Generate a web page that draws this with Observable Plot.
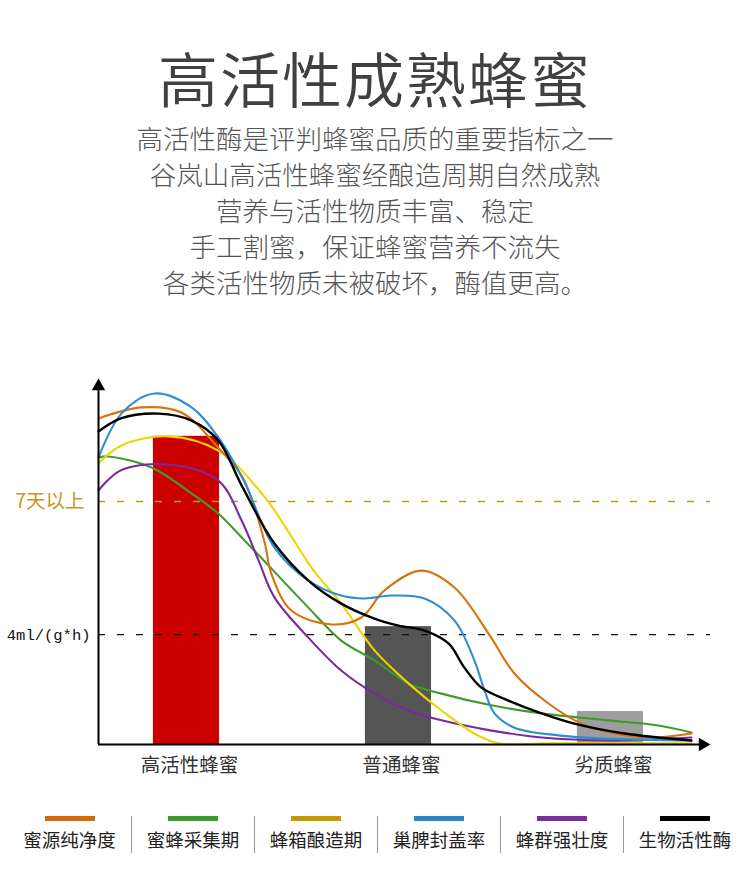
<!DOCTYPE html>
<html>
<head>
<meta charset="utf-8">
<script src="https://cdn.jsdelivr.net/npm/d3@7"></script>
<script src="https://cdn.jsdelivr.net/npm/@observablehq/plot@0.6"></script>
<style>
  html, body { margin: 0; padding: 0; background: #fff; }
  body { width: 750px; font-family: "Noto Sans CJK SC", "Noto Sans", sans-serif; }
  #title { padding-top: 47px; height: 60px; line-height: 60px; font-size: 60px; color: #404040; text-align: center; letter-spacing: 2px; font-weight: 350; }
  #subtitle { margin-top: 13px; font-size: 26.5px; line-height: 36px; color: #555; text-align: center; font-weight: 300; }
  #chart { margin-top: 40px; height: 460px; }
  #legend { display: flex; padding-left: 8px; }
  .item { width: 123px; box-sizing: border-box; display: flex; flex-direction: column; align-items: center; }
  .item + .item { border-left: 1px solid #999; }
  .item { margin-top: 16px; height: 37px; }
  .swatch { width: 50px; height: 5px; }
  .label { margin-top: 5px; font-size: 18.5px; line-height: 26px; color: #222; }
</style>
</head>
<body>
<div id="title"></div>
<div id="subtitle"></div>
<div id="chart"></div>
<div id="legend"></div>
<script>
// ---------- data ----------
const titleText = "高活性成熟蜂蜜";
const subtitleLines = [
  "高活性酶是评判蜂蜜品质的重要指标之一",
  "谷岚山高活性蜂蜜经酿造周期自然成熟",
  "营养与活性物质丰富、稳定",
  "手工割蜜，保证蜂蜜营养不流失",
  "各类活性物质未被破坏，酶值更高。"
];
const categories = ["高活性蜂蜜", "普通蜂蜜", "劣质蜂蜜"];
const barValues = [8.42, 3.22, 0.90];
const barColors = ["#cc0000", "#555555", "#9e9e9e"];
const refLabels = ["7天以上", "4ml/(g*h)"];
const refValues = [6.64, 3.0];
const refColors = ["#c8961e", "#111111"];

const seriesNames = ["蜜源纯净度", "蜜蜂采集期", "蜂箱酿造期", "巢脾封盖率", "蜂群强壮度", "生物活性酶"];
const legendColors = ["#d06a0c", "#3c9a2e", "#c49a00", "#2b86c5", "#7b2e9c", "#000000"];
const lineColors = ["#d8740c", "#3f9c2c", "#f0d400", "#2e8fd0", "#7a2a9e", "#000000"];

const purity = [[-0.415,8.91],[-0.21,9.21],[-0.024,9.07],[0.15,8.11],[0.26,7.35],[0.31,6.67],[0.37,5.49],[0.40,4.67],[0.495,3.66],[0.685,3.28],[0.825,3.47],[0.934,4.21],[1.108,4.75],[1.264,4.29],[1.425,3.03],[1.547,1.94],[1.708,1.12],[1.863,0.57],[2.02,0.30],[2.193,0.19],[2.382,0.30]];
const gathering = [[-0.415,7.84],[-0.37,7.87],[-0.165,7.57],[0.024,6.86],[0.15,6.31],[0.26,5.66],[0.41,4.75],[0.575,3.74],[0.73,2.84],[0.887,2.30],[1.047,1.67],[1.203,1.39],[1.439,1.07],[1.675,0.85],[1.99,0.66],[2.226,0.52],[2.382,0.33]];
const brewing = [[-0.415,7.68],[-0.307,8.17],[-0.085,8.42],[0.15,8.03],[0.37,6.75],[0.60,4.75],[0.73,3.85],[0.887,2.57],[1.047,1.67],[1.203,0.93],[1.358,0.30],[1.472,0.03],[1.7,0.03],[2.382,0.03]];
const capping = [[-0.415,7.84],[-0.307,9.04],[-0.15,9.59],[0.024,9.21],[0.15,8.39],[0.27,7.21],[0.415,5.38],[0.575,4.48],[0.73,4.07],[0.84,3.99],[0.967,4.07],[1.123,3.99],[1.264,3.39],[1.358,2.30],[1.406,1.48],[1.453,0.85],[1.547,0.46],[1.755,0.25],[1.99,0.16],[2.382,0.11]];
const colony = [[-0.415,6.94],[-0.31,7.49],[-0.085,7.65],[0.15,7.21],[0.26,6.12],[0.34,5.03],[0.415,4.02],[0.575,2.92],[0.73,2.02],[0.887,1.39],[1.047,0.93],[1.203,0.66],[1.439,0.38],[1.675,0.19],[1.99,0.11],[2.382,0.19]];
const enzyme = [[-0.415,8.55],[-0.31,8.91],[-0.13,9.04],[0.024,8.85],[0.15,8.31],[0.26,7.08],[0.415,5.49],[0.575,4.48],[0.73,3.85],[0.887,3.44],[1.0,3.25],[1.123,3.11],[1.236,2.76],[1.311,2.10],[1.39,1.56],[1.519,1.20],[1.675,0.85],[1.83,0.57],[2.066,0.30],[2.382,0.11]];
const seriesData = [purity, gathering, brewing, capping, colony, enzyme];

const xMin = -0.415, xMax = 2.472, yMax = 10;
const barHalf = 0.156;

// ---------- header ----------
document.getElementById("title").textContent = titleText;
document.getElementById("subtitle").innerHTML = subtitleLines.map(s => `<div>${s}</div>`).join("");

// ---------- chart ----------
const bars = categories.map((c, i) => ({name: c, i, value: barValues[i], color: barColors[i]}));
const refs = refLabels.map((l, i) => ({label: l, value: refValues[i], color: refColors[i]}));
const drawOrder = [1, 4, 2, 0, 3, 5];
const lines = drawOrder.flatMap(k => seriesData[k].map(([x, y]) => ({series: seriesNames[k], x, y, color: lineColors[k], k})));

const font = "Noto Sans CJK SC";
const chart = Plot.plot({
  width: 750,
  height: 460,
  marginLeft: 98,
  marginRight: 40,
  marginTop: 38,
  marginBottom: 56,
  x: {domain: [xMin, xMax], axis: null},
  y: {domain: [0, yMax], axis: null},
  style: {fontFamily: font, background: "transparent"},
  marks: [
    Plot.rectY(bars, {x1: d => d.i - barHalf, x2: d => d.i + barHalf, y: "value", fill: "color"}),
    Plot.ruleY(refs, {y: "value", stroke: "color", strokeWidth: 1.3, strokeDasharray: "7,12"}),
    Plot.text(refs.slice(0, 1), {x: xMin, y: "value", text: "label", fill: "color", textAnchor: "end", dx: -14, fontSize: 19.5, fontFamily: font}),
    Plot.text(refs.slice(1), {x: xMin, y: "value", text: "label", fill: "#111", textAnchor: "end", dx: -8, fontSize: 15.5, fontFamily: "Liberation Mono"}),
    ...drawOrder.map(k => Plot.line(lines.filter(d => d.k === k), {x: "x", y: "y", stroke: lineColors[k], strokeWidth: k === 5 ? 2.4 : 2.1, curve: "catmull-rom"})),
    Plot.ruleX([xMin], {y1: 0, y2: yMax - 0.2, stroke: "#000", strokeWidth: 2}),
    Plot.ruleY([0], {x1: xMin, x2: xMax - 0.05, stroke: "#000", strokeWidth: 2}),
    Plot.dot([{x: xMin, y: yMax}], {x: "x", y: "y", symbol: "triangle", r: 5, fill: "#000", stroke: null, dy: 7.8}),
    Plot.dot([{x: xMax, y: 0}], {x: "x", y: "y", symbol: "triangle", r: 5, fill: "#000", stroke: null, rotate: 90, dx: -7.8}),
    Plot.text(bars, {x: "i", y: 0, text: "name", dy: 21, dx: 3, fontSize: 19.5, fill: "#333", fontFamily: font})
  ]
});
document.getElementById("chart").appendChild(chart);

// ---------- legend ----------
document.getElementById("legend").innerHTML = seriesNames.map((n, i) =>
  `<div class="item"><div class="swatch" style="background:${legendColors[i]}"></div><div class="label">${n}</div></div>`
).join("");
</script>
</body>
</html>
